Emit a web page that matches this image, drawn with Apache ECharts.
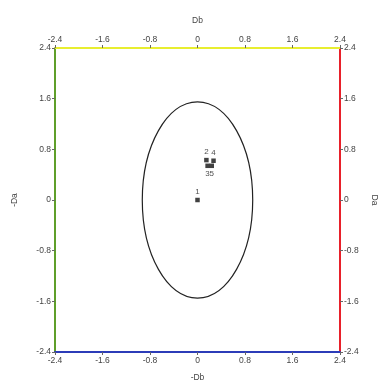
<!DOCTYPE html>
<html><head><meta charset="utf-8">
<script src="https://cdn.jsdelivr.net/npm/echarts@6/dist/echarts.min.js"></script>
<style>html,body{margin:0;padding:0;background:#fff}#c{width:386px;height:386px}</style>
</head><body><div id="c"></div>
<script>
const axisMin = -2.4, axisMax = 2.4, axisStep = 0.8;
const pointNames = ['1', '2', '3', '4', '5'];
const pointX = [0, 0.15, 0.17, 0.27, 0.24];
const pointY = [0, 0.63, 0.54, 0.62, 0.54];
const labelPos = ['top', 'top', 'bottom', 'top', 'bottom'];
const ellipseCenter = [0, 0];
const ellipseRadii = [0.93, 1.55];

const chart = echarts.init(document.getElementById('c'));
const lab = {fontSize: 8.5, color: '#444', fontFamily: 'Liberation Sans'};
function xa(pos, name, color, gap) {
  return {type: 'value', position: pos, min: axisMin, max: axisMax, interval: axisStep,
    name: name, nameLocation: 'middle', nameGap: gap,
    nameTextStyle: {fontSize: 8.5, color: '#444', fontFamily: 'Liberation Sans'},
    axisLine: {show: true, onZero: false, lineStyle: {color: color, width: 2}},
    axisTick: {show: true, length: 3, lineStyle: {color: '#666'}},
    axisLabel: Object.assign({margin: 4, formatter: v => (Math.round(v * 10) / 10).toString()}, lab),
    splitLine: {show: false}};
}
function ya(pos, name, color, rot, gap) {
  const o = xa(pos, name, color, gap);
  o.nameRotate = rot;
  return o;
}
const pts = pointX.map((x, i) => ({value: [x, pointY[i]], name: pointNames[i], label: {position: labelPos[i]}}));
chart.setOption({
  animation: false,
  grid: {left: 55, right: 46, top: 48, bottom: 34, show: false, containLabel: false, outerBoundsMode: 'none'},
  xAxis: [xa('bottom', '-Db', '#2c3cb8', 21), xa('top', 'Db', '#e8ee30', 23)],
  yAxis: [ya('left', '-Da', '#5f9f2a', 90, 36), ya('right', 'Da', '#e8202a', -90, 29)],
  series: [
    {type: 'custom', xAxisIndex: 0, yAxisIndex: 0, silent: true,
     data: [[ellipseCenter[0], ellipseCenter[1], ellipseRadii[0], ellipseRadii[1]]],
     renderItem: function (params, api) {
       const c = api.coord([api.value(0), api.value(1)]);
       const s = api.size([api.value(2), api.value(3)]);
       return {type: 'ellipse', shape: {cx: c[0], cy: c[1], rx: s[0], ry: s[1]},
         style: {fill: null, stroke: '#222', lineWidth: 1.2}};
     }},
    {type: 'scatter', xAxisIndex: 0, yAxisIndex: 0, symbol: 'rect', symbolSize: 4.5,
     itemStyle: {color: '#111'}, data: pts,
     label: {show: true, formatter: p => p.name, fontSize: 8, color: '#222', distance: 2}}
  ]
});
</script></body></html>
